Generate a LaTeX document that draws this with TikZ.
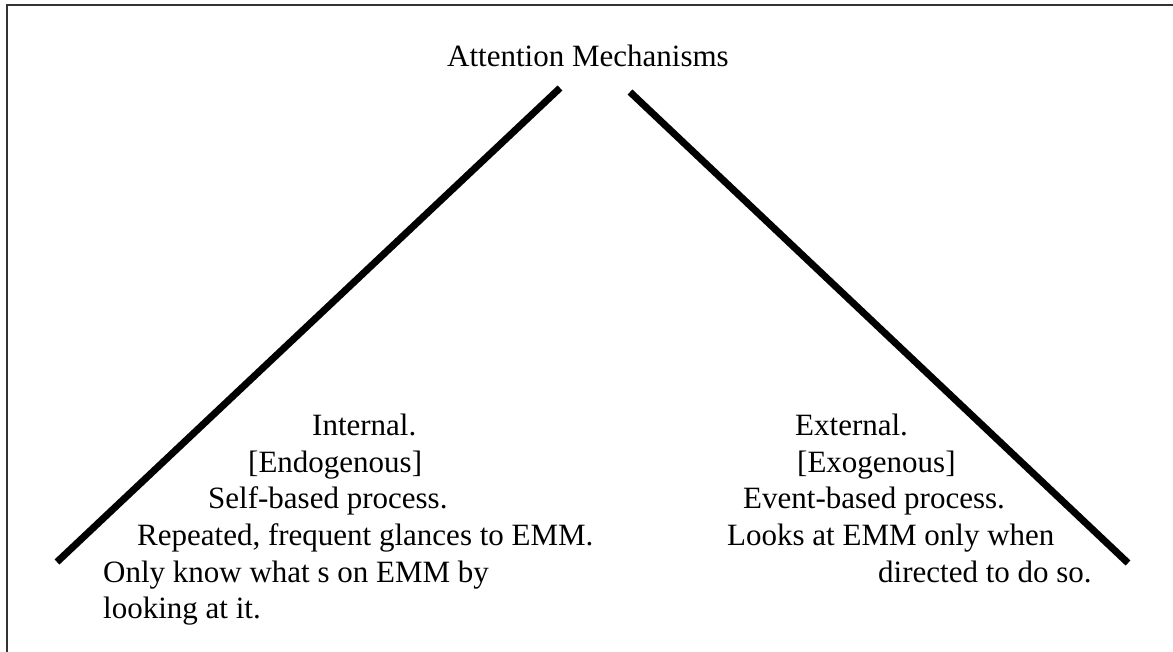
\documentclass[tikz,border=0pt]{standalone}
\usepackage{fontspec}
\setmainfont{Liberation Serif}
\usetikzlibrary{positioning}
\tikzstyle{txt} = [inner sep=0pt, anchor=base west, font=\fontsize{31}{37}\selectfont]
\tikzstyle{branch} = [line width=7pt]
\tikzstyle{frame} = [line width=2pt, draw=black!80]

\begin{document}
\begin{tikzpicture}[x=1pt, y=-1pt]
   \useasboundingbox (0,0) rectangle (1173,652);
   % frame
   \draw[frame] (7,652) -- (7,5) -- (1173,5);

   % title
   \node[txt, anchor=base] (title) at (588,67) {Attention Mechanisms};

   % branch ends
   \coordinate (ltop) at (560,88);
   \coordinate (lbot) at (57,562);
   \coordinate (rtop) at (630,92);
   \coordinate (rbot) at (1128,563);

   % left text
   \node[txt] (int)  at (312,435) {Internal.};
   \node[txt] (endo) at (248,472) {[Endogenous]};
   \node[txt] (self) at (208,508) {Self-based process.};
   \node[txt] (rep)  at (137,545) {Repeated, frequent glances to EMM.};
   \node[txt] (only) at (103,582) {Only know what s on EMM by};
   \node[txt] (look) at (103,618) {looking at it.};

   % right text
   \node[txt] (ext)  at (795,435) {External.};
   \node[txt] (exo)  at (797,472) {[Exogenous]};
   \node[txt] (event) at (743,508) {Event-based process.};
   \node[txt] (when) at (727,545) {Looks at EMM only when};
   \node[txt] (dir)  at (878,582) {directed to do so.};

   % branches
   \draw[branch] (ltop) -- (lbot);
   \draw[branch] (rtop) -- (rbot);
\end{tikzpicture}
\end{document}
